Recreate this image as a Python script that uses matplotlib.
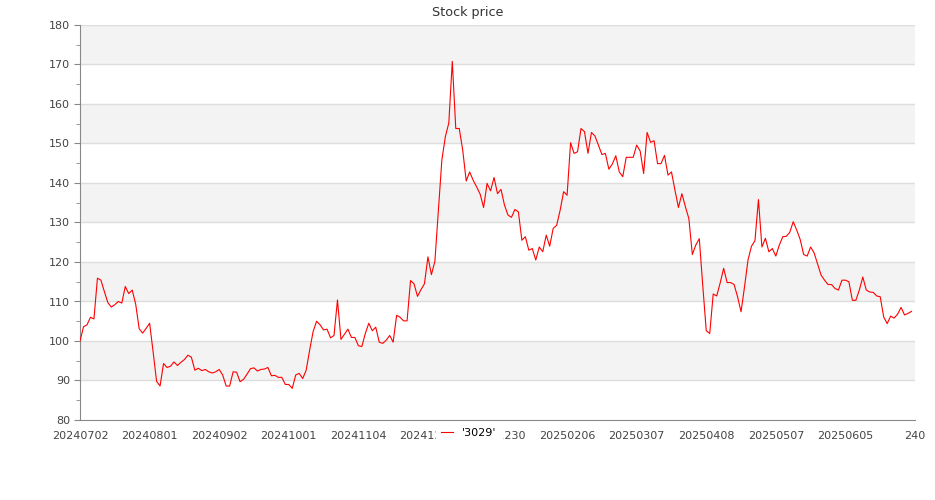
import numpy as np
import matplotlib
matplotlib.use("Agg")
import matplotlib.pyplot as plt
from matplotlib.ticker import MultipleLocator

# closing prices of '3029', one value per trading day
PRICES = [
    100.0, 103.6, 104.1, 106.0, 105.6, 115.9, 115.4, 112.5, 109.7, 108.6,
    109.2, 110.0, 109.6, 113.8, 112.0, 112.9, 109.3, 103.1, 102.0, 103.2,
    104.5, 97.3, 89.8, 88.6, 94.3, 93.3, 93.6, 94.7, 93.8, 94.6,
    95.3, 96.4, 95.9, 92.6, 93.1, 92.5, 92.8, 92.2, 91.9, 92.2,
    92.8, 91.4, 88.6, 88.6, 92.2, 92.1, 89.7, 90.3, 91.6, 93.0,
    93.2, 92.4, 92.8, 92.9, 93.3, 91.2, 91.3, 90.8, 90.8, 89.0,
    89.0, 88.0, 91.4, 91.8, 90.5, 92.6, 97.7, 102.4, 105.0, 104.1,
    102.8, 103.0, 100.8, 101.4, 110.4, 100.4, 101.7, 103.0, 100.9, 100.9,
    98.8, 98.6, 101.9, 104.5, 102.6, 103.5, 99.7, 99.4, 100.2, 101.4,
    99.7, 106.5, 106.0, 105.1, 105.1, 115.3, 114.5, 111.3, 113.0, 114.5,
    121.3, 116.8, 120.2, 133.1, 145.8, 151.7, 155.2, 170.8, 153.8, 153.8,
    148.3, 140.5, 142.8, 140.7, 139.0, 137.2, 133.8, 139.9, 138.0, 141.4,
    137.3, 138.4, 134.4, 131.9, 131.3, 133.3, 132.7, 125.5, 126.4, 123.0,
    123.4, 120.5, 123.8, 122.6, 126.8, 124.0, 128.5, 129.3, 133.1, 137.8,
    136.9, 150.2, 147.5, 147.9, 153.8, 153.0, 147.5, 152.8, 151.9, 149.6,
    147.2, 147.5, 143.5, 144.8, 146.9, 142.8, 141.6, 146.5, 146.5, 146.5,
    149.6, 148.1, 142.4, 152.8, 150.3, 150.7, 144.9, 144.9, 147.0, 142.0,
    142.8, 138.2, 133.8, 137.3, 134.0, 131.0, 121.9, 124.3, 125.9, 114.0,
    102.6, 101.9, 111.9, 111.4, 114.7, 118.4, 114.8, 114.8, 114.3, 111.2,
    107.4, 113.7, 120.5, 124.0, 125.4, 135.8, 123.8, 126.0, 122.6, 123.4,
    121.5, 124.3, 126.4, 126.5, 127.5, 130.2, 128.1, 125.7, 121.9, 121.5,
    123.8, 122.3, 119.5, 116.7, 115.4, 114.3, 114.3, 113.3, 112.9, 115.4,
    115.4, 115.0, 110.3, 110.3, 112.9, 116.2, 112.9, 112.4, 112.3, 111.4,
    111.2, 106.1, 104.4, 106.3, 105.8, 106.8, 108.5, 106.6, 107.0, 107.5,
]

# x tick labels, one every 20 trading days
TICK_LABELS = [
    "20240702", "20240801", "20240902", "20241001", "20241104", "20241202",
    "20241230", "20250206", "20250307", "20250408", "20250507", "20250605",
    "240",
]
TICK_STEP = 20
SERIES_NAME = "'3029'"

Y_LIMIT    = (80, 180)
BAND_COLOR = "#f3f3f3"
GRID_COLOR = "#dddddd"
TEXT_COLOR = "#444444"

fig = plt.figure(figsize=(9.35, 5), dpi=100)
ax = fig.add_axes([0.0856, 0.16, 0.893, 0.79])

# alternating grey bands every 10
for lo in range(Y_LIMIT[0] + 10, Y_LIMIT[1], 20):
    ax.axhspan(lo, lo + 10, color=BAND_COLOR, lw=0, zorder=0)
for y in range(Y_LIMIT[0] + 10, Y_LIMIT[1] + 1, 10):
    ax.axhline(y, color=GRID_COLOR, lw=1.0, zorder=1)

x = np.arange(len(PRICES))
ax.plot(x, PRICES, color="red", lw=0.8, label=SERIES_NAME, zorder=3)

ax.set_ylim(*Y_LIMIT)
ax.set_xlim(0, TICK_STEP * (len(TICK_LABELS) - 1))
ax.yaxis.set_major_locator(MultipleLocator(10))
ax.yaxis.set_minor_locator(MultipleLocator(5))
ax.set_xticks(np.arange(len(TICK_LABELS)) * TICK_STEP)
ax.set_xticklabels(TICK_LABELS)

for side in ("top", "right"):
    ax.spines[side].set_visible(False)
for side in ("left", "bottom"):
    ax.spines[side].set_color("#888888")

ax.tick_params(axis="x", length=0, pad=8, labelsize=8, labelcolor=TEXT_COLOR)
ax.tick_params(axis="y", which="major", length=4, color="#888888",
               labelsize=8, labelcolor=TEXT_COLOR, pad=3)
ax.tick_params(axis="y", which="minor", length=3, color="#888888")

# title is centred on the whole figure, not on the axes
fig.text(0.5, 0.975, "Stock price", ha="center", va="center",
         fontsize=9.2, color="#333333")

# legend sits on top of the tick labels, like the original
fig.legend(loc="center", bbox_to_anchor=(0.5015, 0.134), fontsize=8,
           frameon=True, facecolor="white", edgecolor="white", framealpha=1,
           handlelength=1.1, handletextpad=0.8, borderpad=0.45,
           borderaxespad=0)

fig.savefig("out.png", dpi=100)
